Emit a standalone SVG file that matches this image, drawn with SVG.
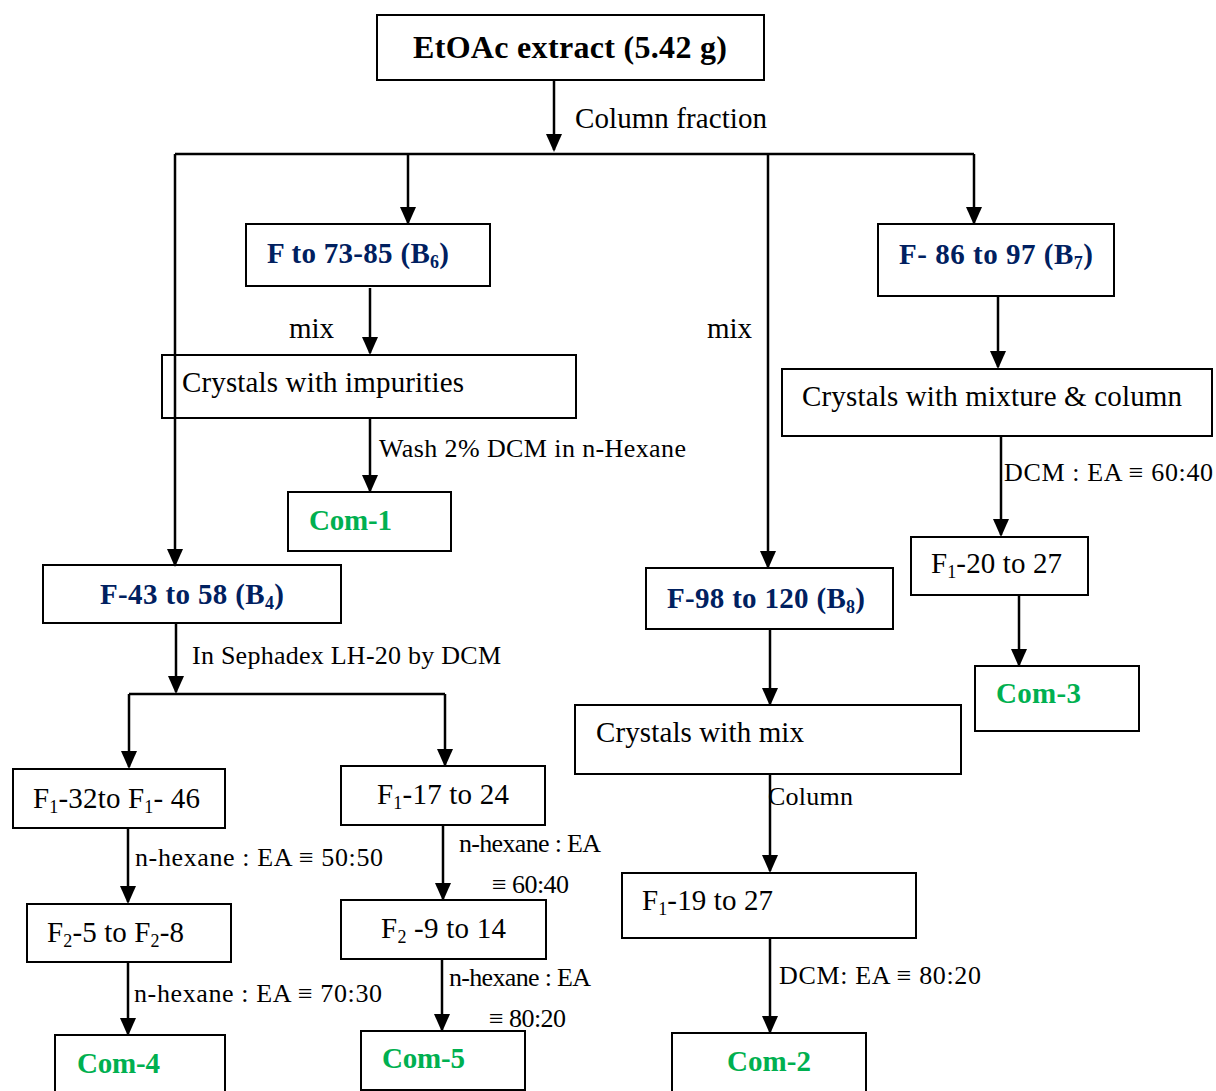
<svg xmlns="http://www.w3.org/2000/svg" width="1216" height="1091" viewBox="0 0 1216 1091">
<style>
.box{fill:#fff;stroke:#000;stroke-width:2}
.ln{fill:none;stroke:#000;stroke-width:2.5}
.t{font-family:"Liberation Serif","Times New Roman",serif;font-size:29px;fill:#000}
.s{font-family:"Liberation Serif","Times New Roman",serif;font-size:26px;fill:#000}
.b{font-family:"Liberation Serif","Times New Roman",serif;font-size:29px;font-weight:bold;fill:#002060}
.g{font-family:"Liberation Serif","Times New Roman",serif;font-size:29px;font-weight:bold;fill:#00B050}
.sub{font-size:18px}
</style>
<defs>
<marker id="ah" markerUnits="userSpaceOnUse" markerWidth="18" markerHeight="22" refX="16" refY="8" orient="auto" viewBox="0 0 18 16">
<path d="M0,0 L18,8 L0,16 Z" fill="#000"/>
</marker>
</defs>
<g id="n-etoac"><rect class="box" x="377" y="15" width="387" height="65"/>
<text x="413" y="58" textLength="314" style="font-family:'Liberation Serif',serif;font-size:32px;font-weight:bold;fill:#000">EtOAc extract (5.42 g)</text></g>
<g id="n-b6"><rect class="box" x="246" y="224" width="244" height="62"/>
<text class="b" x="267" y="263" textLength="182">F to 73-85 (B<tspan class="sub" dy="5">6</tspan><tspan dy="-5">)</tspan></text></g>
<g id="n-b7"><rect class="box" x="878" y="224" width="236" height="72"/>
<text class="b" x="899" y="264" textLength="194">F- 86 to 97 (B<tspan class="sub" dy="5">7</tspan><tspan dy="-5">)</tspan></text></g>
<g id="n-cryst-imp"><rect class="box" x="162" y="355" width="414" height="63"/>
<text class="t" x="182" y="392" textLength="282">Crystals with impurities</text></g>
<g id="n-cryst-mixcol"><rect class="box" x="782" y="369" width="430" height="67"/>
<text class="t" x="802" y="406" textLength="380">Crystals with mixture &amp; column</text></g>
<g id="n-com1"><rect class="box" x="288" y="492" width="163" height="59"/>
<text class="g" x="309" y="530" textLength="83">Com-1</text></g>
<g id="n-f120"><rect class="box" x="911" y="537" width="177" height="58"/>
<text class="t" x="931" y="573" textLength="131">F<tspan class="sub" dy="5">1</tspan><tspan dy="-5">-20 to 27</tspan></text></g>
<g id="n-b4"><rect class="box" x="43" y="565" width="298" height="58"/>
<text class="b" x="100" y="604" textLength="184">F-43 to 58 (B<tspan class="sub" dy="5">4</tspan><tspan dy="-5">)</tspan></text></g>
<g id="n-b8"><rect class="box" x="646" y="568" width="247" height="61"/>
<text class="b" x="667" y="608" textLength="198">F-98 to 120 (B<tspan class="sub" dy="5">8</tspan><tspan dy="-5">)</tspan></text></g>
<g id="n-com3"><rect class="box" x="975" y="666" width="164" height="65"/>
<text class="g" x="996" y="703" textLength="85">Com-3</text></g>
<g id="n-cryst-mix"><rect class="box" x="575" y="705" width="386" height="69"/>
<text class="t" x="596" y="742" textLength="208">Crystals with mix</text></g>
<g id="n-f132"><rect class="box" x="13" y="769" width="212" height="59"/>
<text class="t" x="33" y="808" textLength="167">F<tspan class="sub" dy="5">1</tspan><tspan dy="-5">-32to F</tspan><tspan class="sub" dy="5">1</tspan><tspan dy="-5">- 46</tspan></text></g>
<g id="n-f117"><rect class="box" x="341" y="766" width="204" height="59"/>
<text class="t" x="377" y="804" textLength="132">F<tspan class="sub" dy="5">1</tspan><tspan dy="-5">-17 to 24</tspan></text></g>
<g id="n-f119"><rect class="box" x="622" y="873" width="294" height="65"/>
<text class="t" x="642" y="910" textLength="131">F<tspan class="sub" dy="5">1</tspan><tspan dy="-5">-19 to 27</tspan></text></g>
<g id="n-f25"><rect class="box" x="27" y="904" width="204" height="58"/>
<text class="t" x="47" y="942" textLength="137">F<tspan class="sub" dy="5">2</tspan><tspan dy="-5">-5 to F</tspan><tspan class="sub" dy="5">2</tspan><tspan dy="-5">-8</tspan></text></g>
<g id="n-f29"><rect class="box" x="341" y="900" width="205" height="59"/>
<text class="t" x="381" y="938" textLength="125">F<tspan class="sub" dy="5">2</tspan><tspan dy="-5"> -9 to 14</tspan></text></g>
<g id="n-com4"><rect class="box" x="55" y="1035" width="170" height="60"/>
<text class="g" x="77" y="1073" textLength="83">Com-4</text></g>
<g id="n-com5"><rect class="box" x="361" y="1031" width="164" height="59"/>
<text class="g" x="382" y="1068" textLength="83">Com-5</text></g>
<g id="n-com2"><rect class="box" x="672" y="1033" width="194" height="62"/>
<text class="g" x="727" y="1071" textLength="84">Com-2</text></g>
<g id="connectors">
<path class="ln" d="M554,80 V150" marker-end="url(#ah)"/>
<path class="ln" d="M175,154 H974"/>
<path class="ln" d="M175,154 V565" marker-end="url(#ah)"/>
<path class="ln" d="M408,154 V223" marker-end="url(#ah)"/>
<path class="ln" d="M768,154 V567" marker-end="url(#ah)"/>
<path class="ln" d="M974,154 V223" marker-end="url(#ah)"/>
<path class="ln" d="M370,288 V353" marker-end="url(#ah)"/>
<path class="ln" d="M370,418 V491" marker-end="url(#ah)"/>
<path class="ln" d="M998,296 V367" marker-end="url(#ah)"/>
<path class="ln" d="M1001,436 V535" marker-end="url(#ah)"/>
<path class="ln" d="M1019,595 V665" marker-end="url(#ah)"/>
<path class="ln" d="M770,629 V704" marker-end="url(#ah)"/>
<path class="ln" d="M770,774 V871" marker-end="url(#ah)"/>
<path class="ln" d="M770,938 V1032" marker-end="url(#ah)"/>
<path class="ln" d="M176,623 V692" marker-end="url(#ah)"/>
<path class="ln" d="M129,694 H445"/>
<path class="ln" d="M129,694 V767" marker-end="url(#ah)"/>
<path class="ln" d="M445,694 V765" marker-end="url(#ah)"/>
<path class="ln" d="M128,828 V902" marker-end="url(#ah)"/>
<path class="ln" d="M128,962 V1034" marker-end="url(#ah)"/>
<path class="ln" d="M443,825 V899" marker-end="url(#ah)"/>
<path class="ln" d="M442,959 V1030" marker-end="url(#ah)"/>
</g>
<g id="labels">
<text class="t" x="575" y="128" textLength="192">Column fraction</text>
<text class="t" x="289" y="338">mix</text>
<text class="t" x="707" y="338">mix</text>
<text class="s" x="379" y="457" textLength="307">Wash 2% DCM in n-Hexane</text>
<text class="s" x="1004" y="481" textLength="209">DCM : EA ≡ 60:40</text>
<text class="s" x="192" y="664" textLength="309">In Sephadex LH-20 by DCM</text>
<text class="s" x="768" y="805" textLength="85">Column</text>
<text class="s" x="779" y="984" textLength="202">DCM: EA ≡ 80:20</text>
<text class="s" x="135" y="866" textLength="248">n-hexane : EA ≡ 50:50</text>
<text class="s" x="134" y="1002" textLength="248">n-hexane : EA ≡ 70:30</text>
<text class="s" x="459" y="852" textLength="142">n-hexane : EA</text>
<text class="s" x="492" y="893" textLength="77">≡ 60:40</text>
<text class="s" x="449" y="986" textLength="142">n-hexane : EA</text>
<text class="s" x="489" y="1027" textLength="77">≡ 80:20</text>
</g>
</svg>
